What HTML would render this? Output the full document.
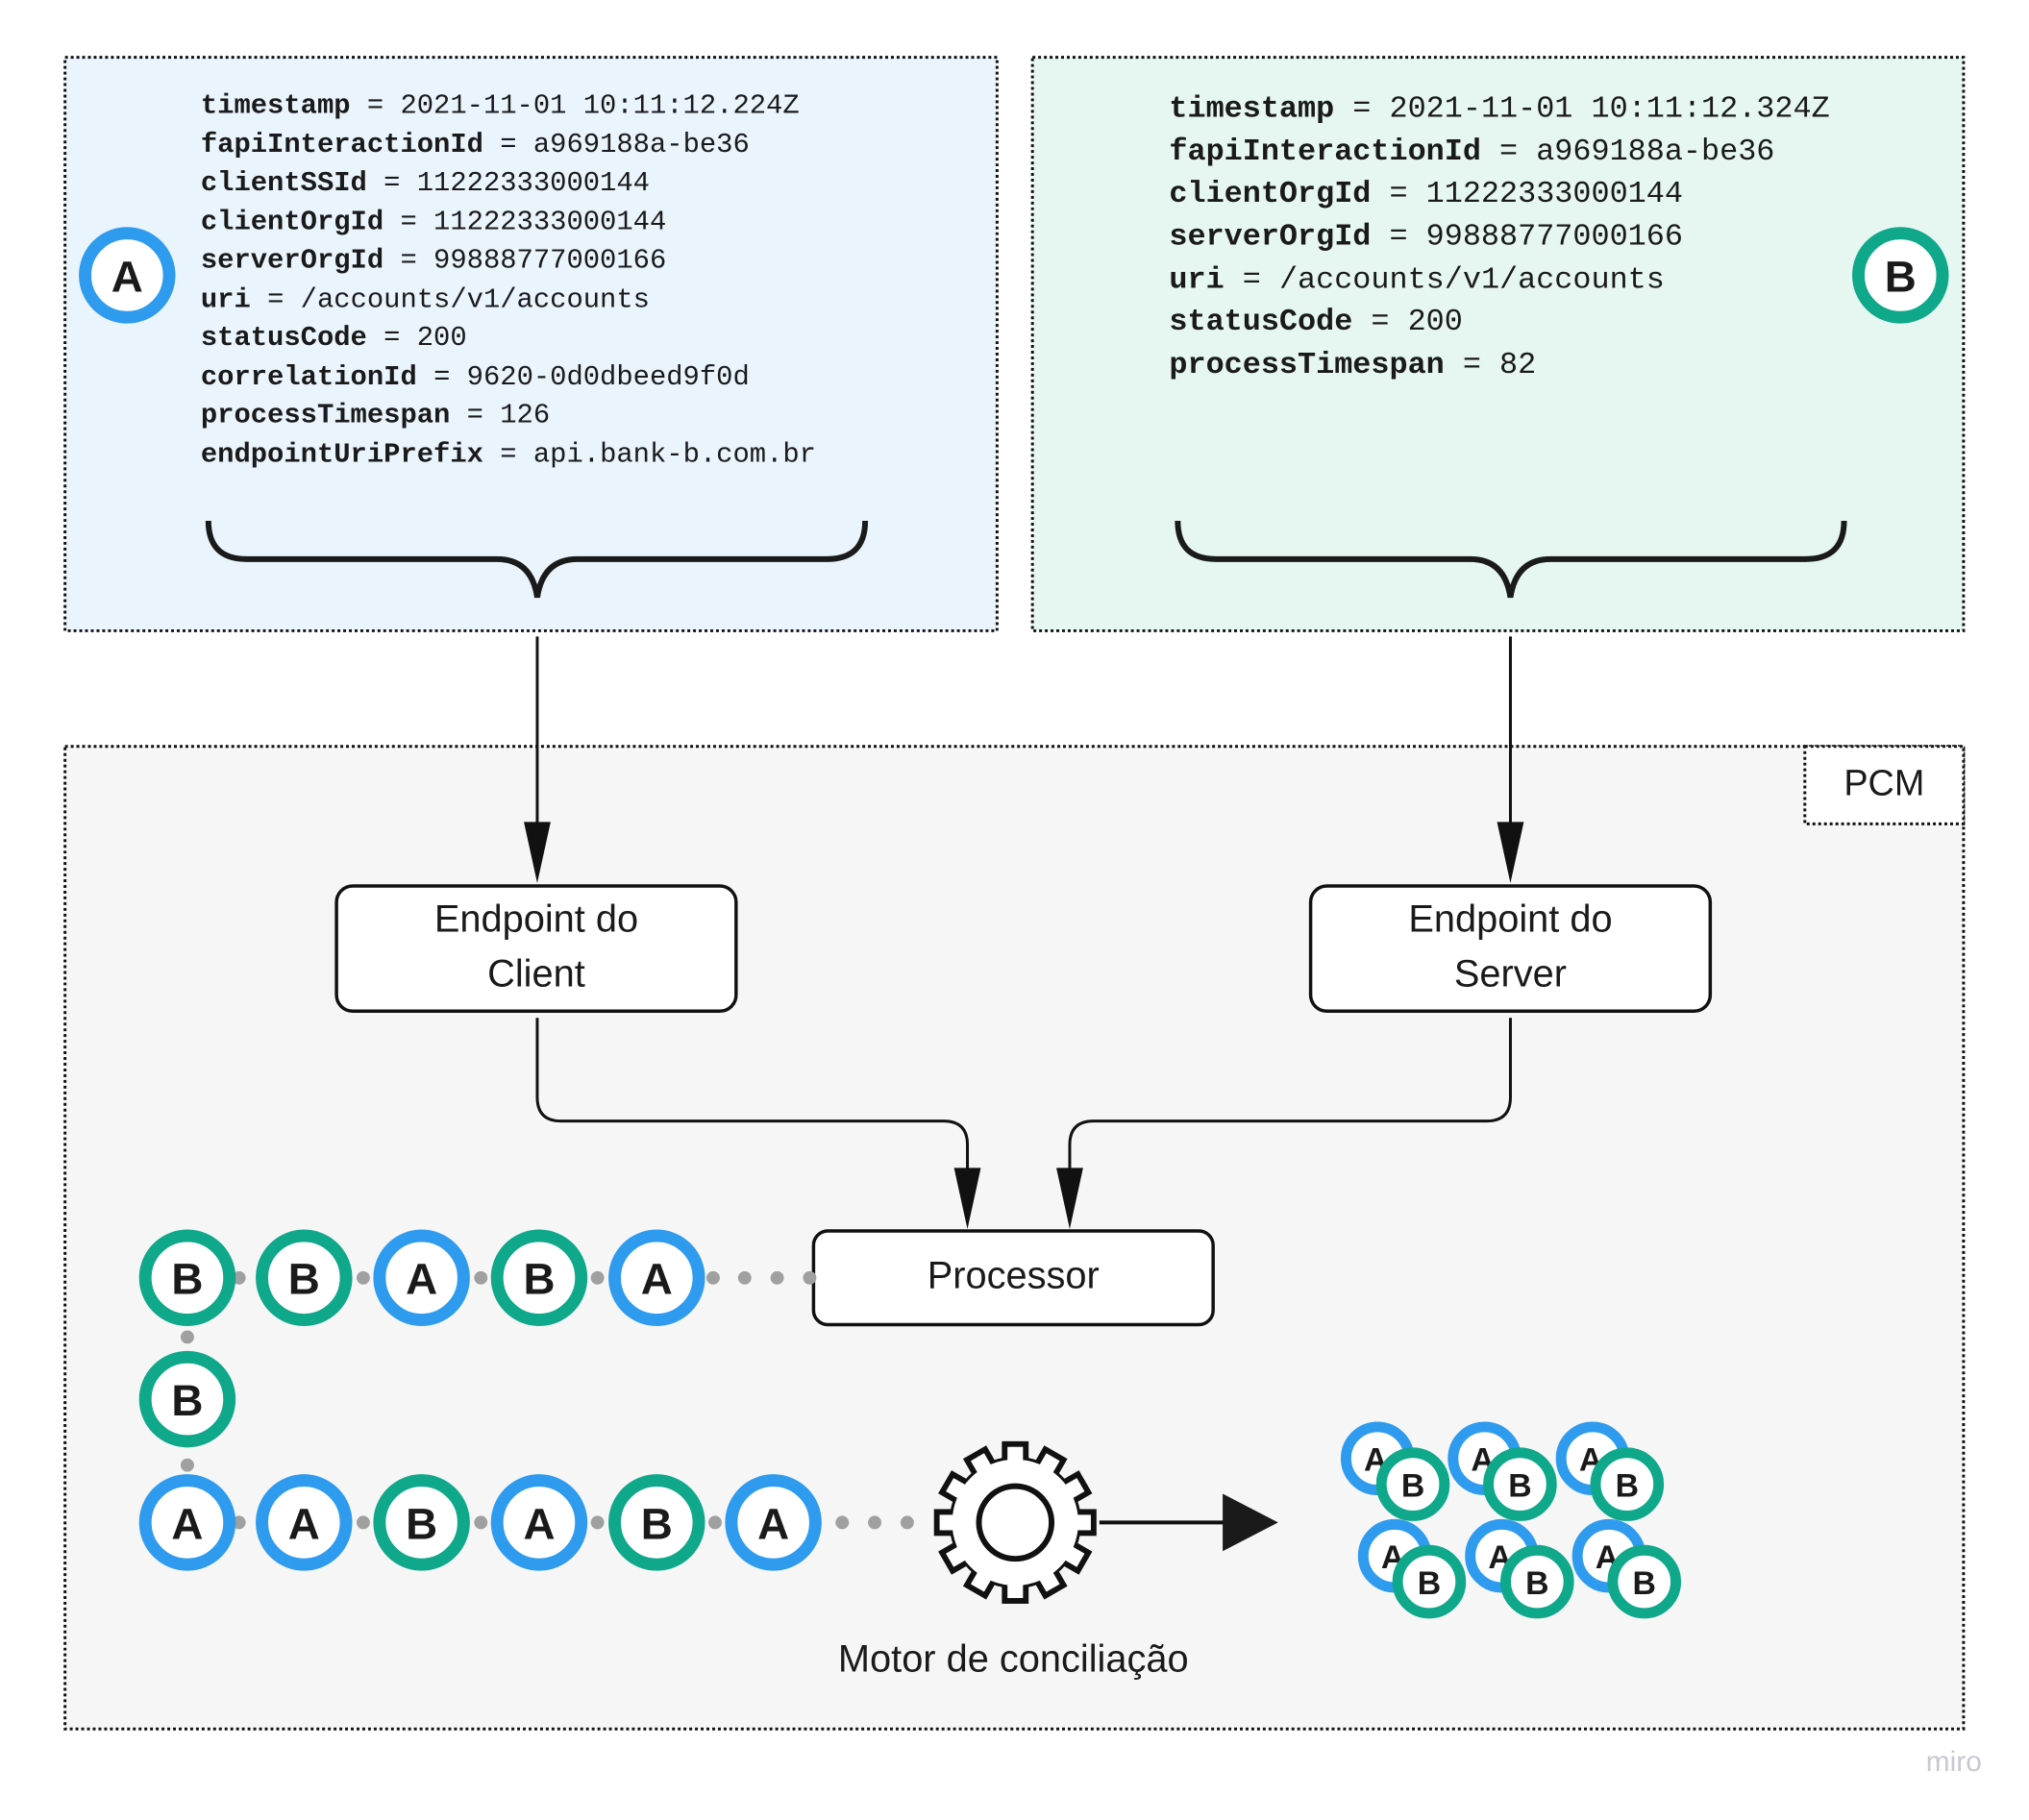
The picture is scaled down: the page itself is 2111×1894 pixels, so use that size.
<!DOCTYPE html>
<html><head><meta charset="utf-8"><style>
html,body{margin:0;padding:0;background:#fff}
svg{display:block}
.m{font-family:"Liberation Mono",monospace;fill:#1a1a1a}
.s{font-family:"Liberation Sans",sans-serif;fill:#1a1a1a}
</style></head><body>
<svg width="2111" height="1894" viewBox="0 0 2111 1894" xmlns="http://www.w3.org/2000/svg">
<defs>
<g id="ca"><circle r="44" fill="#fff" stroke="#2f9bef" stroke-width="13"/><text y="17" text-anchor="middle" class="s" font-weight="bold" font-size="46">A</text></g>
<g id="cb"><circle r="44" fill="#fff" stroke="#0fa88a" stroke-width="13"/><text y="17" text-anchor="middle" class="s" font-weight="bold" font-size="46">B</text></g>
<g id="sa"><circle r="33" fill="#fff" stroke="#2f9bef" stroke-width="11"/><text y="13" x="-2" text-anchor="middle" class="s" font-weight="bold" font-size="34">A</text></g>
<g id="sb"><circle r="33" fill="#fff" stroke="#0fa88a" stroke-width="11"/><text y="13" text-anchor="middle" class="s" font-weight="bold" font-size="34">B</text></g>
</defs>
<g transform="scale(0.9946)">
<!-- Blue box -->
<rect x="68" y="60" width="975" height="600" fill="#eaf4fd" stroke="#111" stroke-width="3" stroke-dasharray="3 3"/>
<g class="m" font-size="29">
<text x="210" y="118"><tspan font-weight="bold">timestamp</tspan> = 2021-11-01 10:11:12.224Z</text>
<text x="210" y="159"><tspan font-weight="bold">fapiInteractionId</tspan> = a969188a-be36</text>
<text x="210" y="199"><tspan font-weight="bold">clientSSId</tspan> = 11222333000144</text>
<text x="210" y="240"><tspan font-weight="bold">clientOrgId</tspan> = 11222333000144</text>
<text x="210" y="280"><tspan font-weight="bold">serverOrgId</tspan> = 99888777000166</text>
<text x="210" y="321"><tspan font-weight="bold">uri</tspan> = /accounts/v1/accounts</text>
<text x="210" y="361"><tspan font-weight="bold">statusCode</tspan> = 200</text>
<text x="210" y="402"><tspan font-weight="bold">correlationId</tspan> = 9620-0d0dbeed9f0d</text>
<text x="210" y="442"><tspan font-weight="bold">processTimespan</tspan> = 126</text>
<text x="210" y="483"><tspan font-weight="bold">endpointUriPrefix</tspan> = api.bank-b.com.br</text>
</g>
<use href="#ca" x="133" y="288"/>
<path d="M218 545 Q218 585 258 585 L520 585 Q556 585 562 625 Q568 585 604 585 L865 585 Q905 585 905 545" fill="none" stroke="#1a1a1a" stroke-width="6"/>

<!-- Green box -->
<rect x="1080" y="60" width="974" height="600" fill="#e6f6f1" stroke="#111" stroke-width="3" stroke-dasharray="3 3"/>
<g class="m" font-size="32">
<text x="1223" y="122"><tspan font-weight="bold">timestamp</tspan> = 2021-11-01 10:11:12.324Z</text>
<text x="1223" y="167"><tspan font-weight="bold">fapiInteractionId</tspan> = a969188a-be36</text>
<text x="1223" y="211"><tspan font-weight="bold">clientOrgId</tspan> = 11222333000144</text>
<text x="1223" y="256"><tspan font-weight="bold">serverOrgId</tspan> = 99888777000166</text>
<text x="1223" y="301"><tspan font-weight="bold">uri</tspan> = /accounts/v1/accounts</text>
<text x="1223" y="345"><tspan font-weight="bold">statusCode</tspan> = 200</text>
<text x="1223" y="390"><tspan font-weight="bold">processTimespan</tspan> = 82</text>
</g>
<use href="#cb" x="1988" y="288"/>
<path d="M1232 545 Q1232 585 1272 585 L1538 585 Q1574 585 1580 625 Q1586 585 1622 585 L1889 585 Q1929 585 1929 545" fill="none" stroke="#1a1a1a" stroke-width="6"/>

<!-- PCM -->
<rect x="68" y="781" width="1986" height="1028" fill="#f6f6f6" stroke="#111" stroke-width="3" stroke-dasharray="3 3"/>
<rect x="1888" y="781" width="166" height="81" fill="#fff" stroke="#111" stroke-width="3" stroke-dasharray="3 3"/>
<text x="1971" y="832" text-anchor="middle" class="s" font-size="38">PCM</text>

<line x1="562" y1="666" x2="562" y2="880" stroke="#111" stroke-width="3"/>
<polygon points="548,860 576,860 562,924" fill="#111"/>
<line x1="1580" y1="666" x2="1580" y2="880" stroke="#111" stroke-width="3"/>
<polygon points="1566,860 1594,860 1580,924" fill="#111"/>

<rect x="352" y="927" width="418" height="131" rx="17" fill="#fff" stroke="#111" stroke-width="3.5"/>
<text x="561" y="975" text-anchor="middle" class="s" font-size="40">Endpoint do</text>
<text x="561" y="1032" text-anchor="middle" class="s" font-size="40">Client</text>
<rect x="1371" y="927" width="418" height="131" rx="17" fill="#fff" stroke="#111" stroke-width="3.5"/>
<text x="1580" y="975" text-anchor="middle" class="s" font-size="40">Endpoint do</text>
<text x="1580" y="1032" text-anchor="middle" class="s" font-size="40">Server</text>

<path d="M562 1065 L562 1148 Q562 1173 587 1173 L987 1173 Q1012 1173 1012 1198 L1012 1240" fill="none" stroke="#111" stroke-width="3"/>
<polygon points="998,1222 1026,1222 1012,1286" fill="#111"/>
<path d="M1580 1065 L1580 1148 Q1580 1173 1555 1173 L1144 1173 Q1119 1173 1119 1198 L1119 1240" fill="none" stroke="#111" stroke-width="3"/>
<polygon points="1105,1222 1133,1222 1119,1286" fill="#111"/>

<rect x="851" y="1288" width="418" height="98" rx="15" fill="#fff" stroke="#111" stroke-width="3.5"/>
<text x="1060" y="1348" text-anchor="middle" class="s" font-size="40">Processor</text>

<g fill="#a0a0a0">
<circle cx="250" cy="1337" r="7"/><circle cx="380" cy="1337" r="7"/><circle cx="503" cy="1337" r="7"/><circle cx="625" cy="1337" r="7"/>
<circle cx="746" cy="1337" r="7"/><circle cx="779" cy="1337" r="7"/><circle cx="813" cy="1337" r="7"/><circle cx="847" cy="1337" r="7"/>
<circle cx="196" cy="1399" r="7"/><circle cx="196" cy="1533" r="7"/>
<circle cx="250" cy="1593" r="7"/><circle cx="380" cy="1593" r="7"/><circle cx="503" cy="1593" r="7"/><circle cx="625" cy="1593" r="7"/><circle cx="748" cy="1593" r="7"/>
<circle cx="881" cy="1593" r="7"/><circle cx="915" cy="1593" r="7"/><circle cx="949" cy="1593" r="7"/>
</g>
<use href="#cb" x="196" y="1337"/><use href="#cb" x="318" y="1337"/><use href="#ca" x="441" y="1337"/><use href="#cb" x="564" y="1337"/><use href="#ca" x="687" y="1337"/>
<use href="#cb" x="196" y="1464"/>
<use href="#ca" x="196" y="1593"/><use href="#ca" x="318" y="1593"/><use href="#cb" x="441" y="1593"/><use href="#ca" x="564" y="1593"/><use href="#cb" x="687" y="1593"/><use href="#ca" x="809" y="1593"/>

<g transform="translate(1062,1593)">
<g stroke="#111" stroke-width="6" fill="#fff">
<circle r="66"/>
<rect x="-11" y="-82" width="22" height="30" transform="rotate(0)"/>
<rect x="-11" y="-82" width="22" height="30" transform="rotate(30)"/>
<rect x="-11" y="-82" width="22" height="30" transform="rotate(60)"/>
<rect x="-11" y="-82" width="22" height="30" transform="rotate(90)"/>
<rect x="-11" y="-82" width="22" height="30" transform="rotate(120)"/>
<rect x="-11" y="-82" width="22" height="30" transform="rotate(150)"/>
<rect x="-11" y="-82" width="22" height="30" transform="rotate(180)"/>
<rect x="-11" y="-82" width="22" height="30" transform="rotate(210)"/>
<rect x="-11" y="-82" width="22" height="30" transform="rotate(240)"/>
<rect x="-11" y="-82" width="22" height="30" transform="rotate(270)"/>
<rect x="-11" y="-82" width="22" height="30" transform="rotate(300)"/>
<rect x="-11" y="-82" width="22" height="30" transform="rotate(330)"/>
</g>
<g fill="#fff" stroke="none">
<circle r="66"/>
<rect x="-8" y="-79" width="16" height="30" transform="rotate(0)"/>
<rect x="-8" y="-79" width="16" height="30" transform="rotate(30)"/>
<rect x="-8" y="-79" width="16" height="30" transform="rotate(60)"/>
<rect x="-8" y="-79" width="16" height="30" transform="rotate(90)"/>
<rect x="-8" y="-79" width="16" height="30" transform="rotate(120)"/>
<rect x="-8" y="-79" width="16" height="30" transform="rotate(150)"/>
<rect x="-8" y="-79" width="16" height="30" transform="rotate(180)"/>
<rect x="-8" y="-79" width="16" height="30" transform="rotate(210)"/>
<rect x="-8" y="-79" width="16" height="30" transform="rotate(240)"/>
<rect x="-8" y="-79" width="16" height="30" transform="rotate(270)"/>
<rect x="-8" y="-79" width="16" height="30" transform="rotate(300)"/>
<rect x="-8" y="-79" width="16" height="30" transform="rotate(330)"/>
</g>
<circle r="38" fill="#fff" stroke="#111" stroke-width="6"/>
</g>
<line x1="1150" y1="1593" x2="1285" y2="1593" stroke="#111" stroke-width="4"/>
<polygon points="1279,1563 1337,1593 1279,1623" fill="#1a1a1a"/>
<text x="1060" y="1749" text-anchor="middle" class="s" font-size="40">Motor de conciliação</text>

<use href="#sa" x="1441" y="1526"/><use href="#sb" x="1478" y="1553"/>
<use href="#sa" x="1553" y="1526"/><use href="#sb" x="1590" y="1553"/>
<use href="#sa" x="1666" y="1526"/><use href="#sb" x="1702" y="1553"/>
<use href="#sa" x="1459" y="1628"/><use href="#sb" x="1495" y="1655"/>
<use href="#sa" x="1571" y="1628"/><use href="#sb" x="1608" y="1655"/>
<use href="#sa" x="1683" y="1628"/><use href="#sb" x="1720" y="1655"/>

<text x="2073" y="1853" text-anchor="end" class="s" font-size="30" style="fill:#c8c8d2">miro</text>
</g>
</svg>
</body></html>
